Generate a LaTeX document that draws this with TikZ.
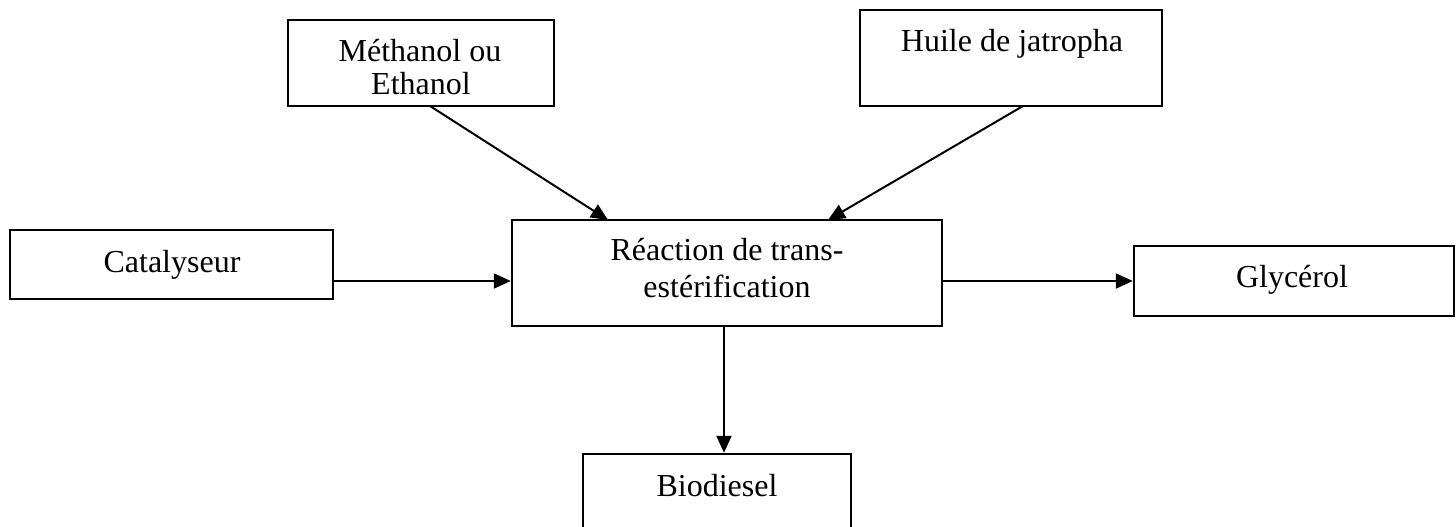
\documentclass[tikz,border=0pt]{standalone}
\usepackage{fontspec}
\setmainfont{Liberation Serif}
\usetikzlibrary{arrows.meta}
\tikzset{
  box/.style={draw=black, line width=2.4pt, rectangle, inner sep=0pt},
  txt/.style={anchor=base, inner sep=0pt, font=\fontsize{32pt}{36pt}\selectfont},
  arr/.style={line width=2pt, -{Triangle[length=17pt,width=15pt]}}
}
\begin{document}
\begin{tikzpicture}[x=1pt,y=-1pt]
\useasboundingbox (0,0) rectangle (1456,527);
\clip (0,0) rectangle (1456,527);
% boxes
\node[box, minimum width=266pt, minimum height=86pt] (meth) at (421,63) {};
\node[box, minimum width=302pt, minimum height=96pt] (huile) at (1011,58) {};
\node[box, minimum width=323pt, minimum height=69pt] (cat) at (171.5,264.5) {};
\node[box, minimum width=430pt, minimum height=106pt] (reac) at (727,273) {};
\node[box, minimum width=320pt, minimum height=70pt] (gly) at (1294,281) {};
\node[box, minimum width=268pt, minimum height=110pt] (bio) at (717,509) {};
% texts
\node[txt] (t1) at (420,62) {Méthanol ou};
\node[txt] (t2) at (421,95) {Ethanol};
\node[txt] (t3) at (1012,52) {Huile de jatropha};
\node[txt] (t4) at (172,272) {Catalyseur};
\node[txt] (t5) at (727,260) {Réaction de trans-};
\node[txt] (t6) at (727,297) {estérification};
\node[txt] (t7) at (1292,287) {Glycérol};
\node[txt] (t8) at (717,496) {Biodiesel};
% connector end points
\coordinate (m0) at (430,106);
\coordinate (m1) at (608,220);
\coordinate (h0) at (1023,106);
\coordinate (h1) at (828,220);
% arrows
\draw[arr] (m0) -- (m1);
\draw[arr] (h0) -- (h1);
\draw[arr] (cat.east |- 0,281) -- (reac.west |- 0,281);
\draw[arr] (reac.east |- 0,281) -- (gly.west |- 0,281);
\draw[arr] (reac.south -| 724,0) -- (bio.north -| 724,0);
\end{tikzpicture}
\end{document}
